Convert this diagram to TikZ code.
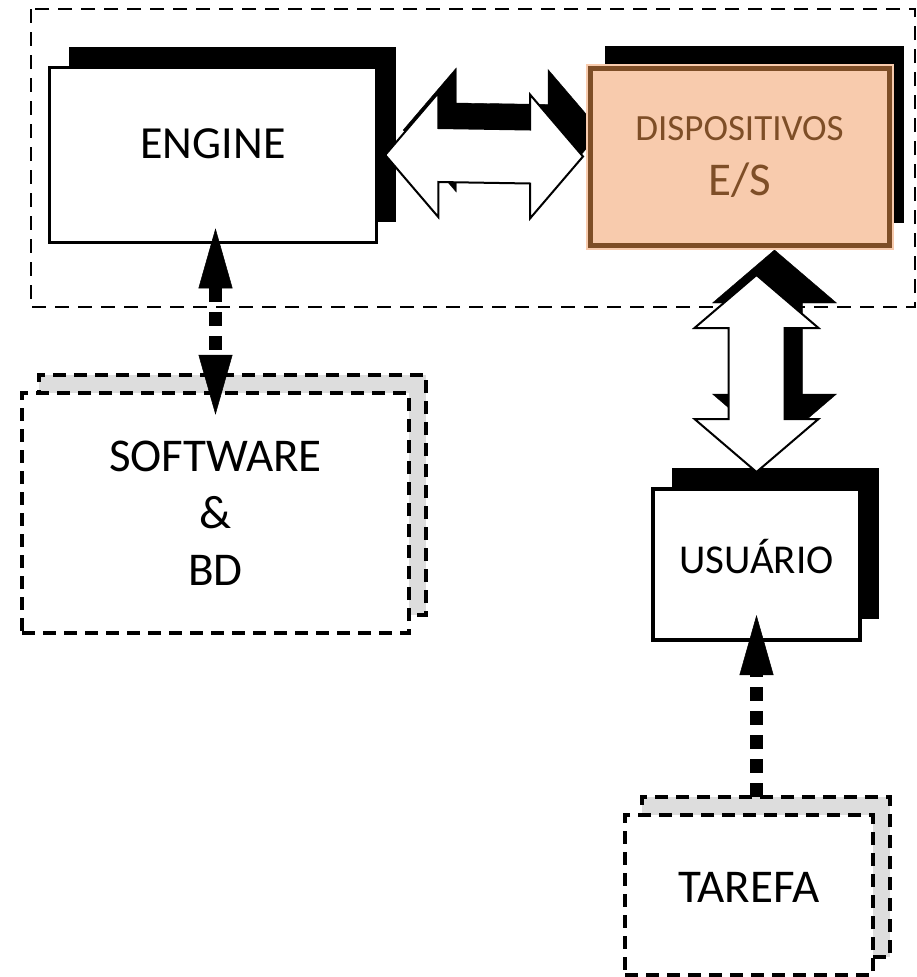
\documentclass[tikz,border=0pt]{standalone}
\usepackage{fontspec}
\setmainfont{Carlito}
\usetikzlibrary{arrows.meta,calc,shadows}
\definecolor{devfill}{HTML}{F8CBAD}
\definecolor{devline}{HTML}{7E4E27}
\definecolor{shadegray}{HTML}{DDDDDD}
\pgfdeclarelayer{front}
\pgfsetlayers{main,front}
\newcommand{\hfatarrow}[2]{(#1) -- ($(#1)+(53,-62)$) -- ($(#1)+(53,-27)$) -- ($(#2)+(-53,-27)$) -- ($(#2)+(-53,-62)$) -- (#2) -- ($(#2)+(-53,62)$) -- ($(#2)+(-53,27)$) -- ($(#1)+(53,27)$) -- ($(#1)+(53,62)$) -- cycle}
\newcommand{\vfatarrow}[2]{(#1) -- ($(#1)+(-62,53)$) -- ($(#1)+(-28,53)$) -- ($(#2)+(-28,-53)$) -- ($(#2)+(-62,-53)$) -- (#2) -- ($(#2)+(62,-53)$) -- ($(#2)+(28,-53)$) -- ($(#1)+(28,53)$) -- ($(#1)+(62,53)$) -- cycle}

\begin{document}
\begin{tikzpicture}[x=1pt,y=-1pt,
    solidbox/.style={draw,line width=3.5pt,fill=white,inner sep=0pt,
      drop shadow={shadow xshift=19pt,shadow yshift=21pt,fill=black,opacity=1}},
    dashbox/.style={draw,line width=4.5pt,dash pattern=on 13pt off 8pt,fill=white,inner sep=0pt,
      drop shadow={shadow xshift=17pt,shadow yshift=18pt,fill=shadegray,draw=black,
        line width=4.5pt,dash pattern=on 13pt off 8pt,opacity=1}},
    fatarrow/.style={draw,line width=2pt,fill=white,line join=miter,
      drop shadow={shadow xshift=18pt,shadow yshift=25pt,fill=black,draw=black,opacity=1}},
    dotlink/.style={line width=13pt,dash pattern=on 14pt off 10pt},
    bigtip/.tip={Triangle[length=60pt,width=34pt,line width=0.5pt]}]
    \useasboundingbox (0,0) rectangle (917,977);
    % frame round engine and devices
    \draw[line width=1.5pt,dash pattern=on 14pt off 9pt] (31,9) rectangle (915,307);
    \node[solidbox,minimum width=327pt,minimum height=175pt,text depth=22pt,
      font=\fontsize{46}{55}\selectfont] (engine) at (213,155) {ENGINE};
    \node[solidbox,line width=4pt,minimum width=207pt,minimum height=151pt,text depth=16pt,
      font=\fontsize{41}{49}\selectfont] (usuario) at (756.5,564.5) {USUÁRIO};
    \node[dashbox,minimum width=387pt,minimum height=240pt,align=center,
      font=\fontsize{47}{57}\selectfont] (software) at (215.5,513) {SOFTWARE\\\&\\BD};
    \node[dashbox,minimum width=248pt,minimum height=160pt,text depth=15pt,
      font=\fontsize{47}{55}\selectfont] (tarefa) at (749,895) {TAREFA};
    \begin{pgfonlayer}{front}
    \node[drop shadow={shadow xshift=15pt,shadow yshift=22pt,fill=black,opacity=1},
      preaction={draw=devfill,line width=9pt},draw=devline,line width=5pt,fill=devfill,
      inner sep=0pt,minimum width=299pt,minimum height=177pt,align=center,text=devline,
      font=\fontsize{47}{55}\selectfont] (dispositivos) at (739.5,156.5)
      {{\fontsize{37}{44}\selectfont DISPOSITIVOS}\\E/S};
    \end{pgfonlayer}
    % fat double arrows
    \coordinate (hl) at ($(engine.east)+(7,0)$);
    \coordinate (hr) at ($(dispositivos.west)+(-4.5,0)$);
    \draw[fatarrow] \hfatarrow{hl}{hr};
    \coordinate (vt) at ($(usuario.north |- dispositivos.south)+(0,27.5)$);
    \coordinate (vb) at ($(usuario.north)+(0,-15)$);
    \draw[fatarrow] \vfatarrow{vt}{vb};
    % dotted links
    \draw[dotlink,{bigtip}-{bigtip}] ($(software.north |- engine.south)+(0,-16)$) -- ($(software.north)+(0,24)$);
    \draw[dotlink,-{bigtip}] ($(usuario.south |- tarefa.north)+(0,-16)$) -- ($(usuario.south)+(0,-27)$);
\end{tikzpicture}
\end{document}
